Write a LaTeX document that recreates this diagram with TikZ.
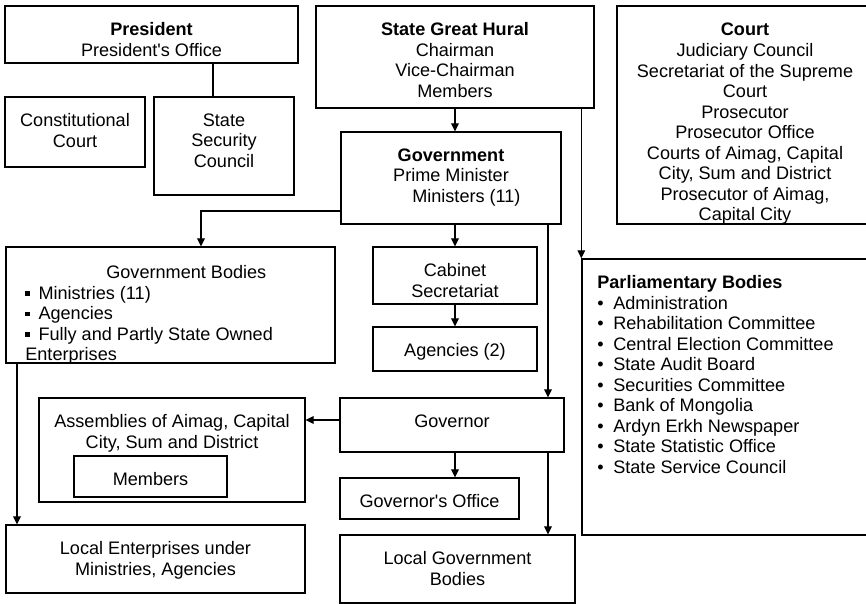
\documentclass[tikz,border=0pt]{standalone}
\usepackage{fontspec}
\setmainfont{Liberation Sans}
\usetikzlibrary{arrows.meta}

\newcommand{\sqbul}{\rule[2pt]{2.5pt}{2.5pt}\hspace{5pt}}
\newcommand{\pbul}{\textbullet\hspace{5.5pt}}
\newcommand{\apos}{\textquotesingle}

\begin{document}
\begin{tikzpicture}[x=0.02cm,y=-0.02cm,
  font=\fontsize{10.3}{11.7}\selectfont,
  box/.style 2 args={draw,line width=0.75pt,inner sep=0pt,
    minimum width=#1*0.02cm,minimum height=#2*0.02cm},
  blank/.style={inner sep=0pt,align=left},
  link/.style={line width=0.6pt},
  arr/.style={link,-{Triangle[length=4.6pt,width=4.4pt]}}]
\useasboundingbox (0,0) rectangle (866,604);
\clip (0,0) rectangle (866,604);

% boxes with centred text hanging from the top edge:
% name/centre x/centre y/width/height/text
\foreach \n/\cx/\cy/\bw/\bh/\txt in {%
  pres/151.5/34.5/293/57/{\textbf{President}\\President\apos s Office},%
  hural/455/57/278/102/{\textbf{State Great Hural}\\Chairman\\Vice-Chairman\\Members},%
  gov/451/178/220/92/{\textbf{Government}\\Prime Minister\\\hspace*{1.7em}Ministers (11)},%
  constcourt/75/132/140/70/{Constitutional\\Court},%
  secur/224/146/140/98/{State\\Security\\Council},%
  cabinet/455/275.5/164/57/{Cabinet\\Secretariat},%
  agencies/455/349/164/44/{Agencies (2)},%
  governor/452/425/224/54/{Governor},%
  govoffice/429.5/498.5/179/41/{Governor\apos s Office},%
  assemblies/172/450/266/104/{Assemblies of Aimag, Capital\\City, Sum and District},%
  members/150.5/476.5/153/41/{Members},%
  localent/155.5/559/299/68/{Local Enterprises under\\Ministries, Agencies},%
  localgov/457.5/569/235/68/{Local Government\\Bodies}}{
  \node[box={\bw}{\bh}] (\n) at (\cx,\cy) {};
  \node[blank,align=center,anchor=north] (t\n) at ([yshift=-0.34cm]\n.north) {\txt};
}

% court and parliament run off the right edge
\node[box={266}{218}] (court) at (750,115) {};
\node[blank,align=center,anchor=north] (tcourt) at (745,23) {\textbf{Court}\\Judiciary Council\\Secretariat of the Supreme\\Court\\Prosecutor\\Prosecutor Office\\Courts of Aimag, Capital\\City, Sum and District\\Prosecutor of Aimag,\\Capital City};
\node[box={308}{276}] (parl) at (736,397) {};
\node[blank,anchor=north west] (tparl) at (597,275) {\textbf{Parliamentary Bodies}\\
  \pbul Administration\\ \pbul Rehabilitation Committee\\ \pbul Central Election Committee\\
  \pbul State Audit Board\\ \pbul Securities Committee\\ \pbul Bank of Mongolia\\
  \pbul Ardyn Erkh Newspaper\\ \pbul State Statistic Office\\ \pbul State Service Council};

% left-aligned list with a centred heading
\node[box={329}{116}] (govbodies) at (170.5,305) {};
\node[blank,anchor=north west] (tgovbodies) at (25,265) {\makebox[6.44cm]{Government Bodies}\\
  \sqbul Ministries (11)\\ \sqbul Agencies\\ \sqbul Fully and Partly State Owned\\ Enterprises};

% connectors
\draw[link] (pres.south -| 213,0) -- (secur.north -| 213,0);
\draw[arr] (hural.south) -- (gov.north -| hural.south);
\draw[arr] (hural.south -| parl.north west) -- (parl.north west);
\draw[arr] (gov.west |- 0,211) -| (govbodies.north -| 201,0);
\draw[arr] (gov.south -| cabinet.north) -- (cabinet.north);
\draw[arr] (cabinet.south) -- (agencies.north);
\draw[arr] (gov.south -| 548,0) -- (governor.north -| 548,0);
\draw[arr] (governor.west |- 0,420) -- (assemblies.east |- 0,420);
\draw[arr] (govbodies.south -| 17,0) -- (localent.north -| 17,0);
\draw[arr] (governor.south -| 455,0) -- (govoffice.north -| 455,0);
\draw[arr] (governor.south -| 548,0) -- (localgov.north -| 548,0);
\end{tikzpicture}
\end{document}
